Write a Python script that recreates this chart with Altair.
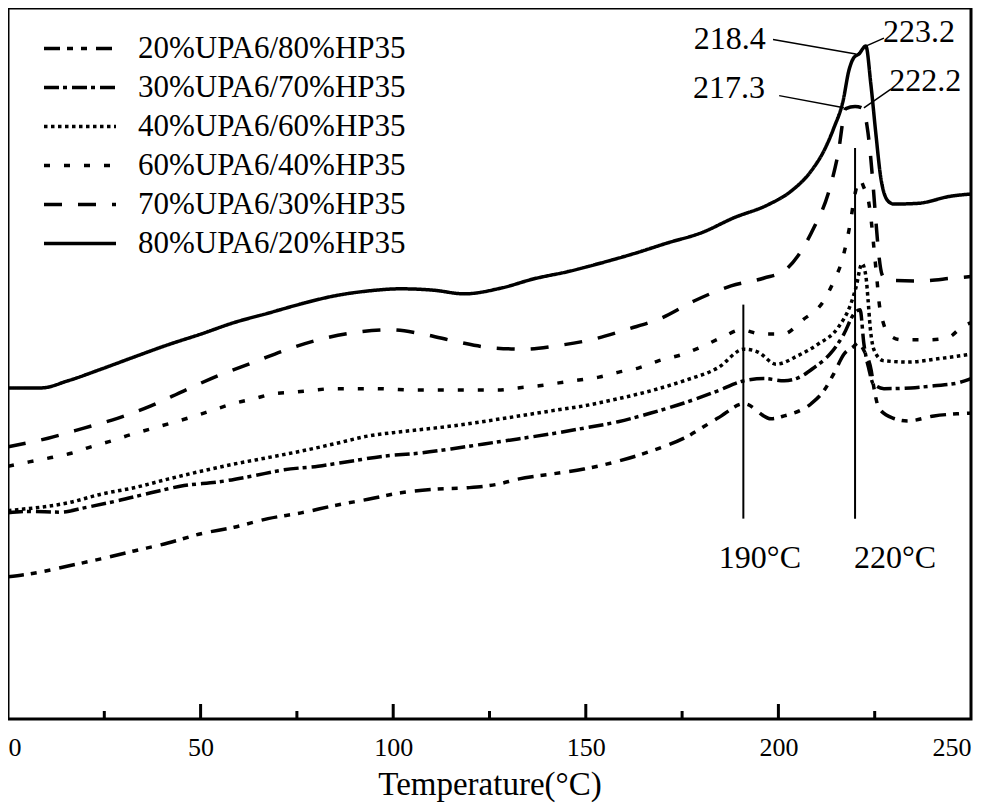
import altair as alt
import pandas as pd

# ---------------- data ----------------
series_names = ["20%UPA6/80%HP35", "30%UPA6/70%HP35", "40%UPA6/60%HP35",
                "60%UPA6/40%HP35", "70%UPA6/30%HP35", "80%UPA6/20%HP35"]

t_20 = [0, 6.7, 15.6, 24.1, 32.7, 41.5, 50.1, 58.7, 67.5, 76.1, 84.6, 93.5, 102, 110.6, 119.4,
        127.2, 132.4, 141, 149.5, 158.4, 166.9, 175.5, 184.3, 191.1, 198.1, 201.5, 208.5, 211.8,
        214.4, 217, 219.6, 220.7, 222.2, 224.1, 224.8, 226.1, 229.7, 233.6, 240.4, 246.6, 250]
v_20 = [19.8, 20.3, 21.3, 22.3, 23.4, 24.5, 25.8, 26.7, 27.9, 28.7, 29.7, 30.6, 31.5, 32.0, 32.2,
        32.7, 33.4, 34.1, 34.8, 35.9, 37.3, 39.1, 41.9, 43.9, 41.8, 42.2, 43.9, 45.7,
        48.1, 50.8, 51.9, 52.4, 51.3, 48.5, 46.1, 43.3, 41.9, 41.5, 42.2, 42.5, 42.6]

t_30 = [0, 5, 13.8, 19.7, 28.6, 37.1, 45.7, 54.5, 63.1, 71.7, 80.5, 89, 97.6, 106.4, 115,
        123.6, 132.4, 141, 149.5, 158.4, 166.9, 175.5, 184.3, 191.1, 196.3, 201.5, 205.1, 209.2,
        213.7, 217, 219.6, 221.2, 222.2, 223.5, 224.6, 227.4, 234.4, 240.4, 246.6, 250]
v_30 = [28.7, 28.9, 28.8, 29.4, 30.4, 31.5, 32.5, 33.0, 33.8, 34.7, 35.2, 35.9, 36.6, 37.0, 37.6,
        38.3, 39.0, 39.7, 40.5, 41.4, 42.6, 44.0, 45.7, 47.1, 47.4, 47.1, 47.5, 48.9,
        51.0, 53.6, 56.4, 57.0, 52.2, 48.7, 46.7, 46.0, 46.1, 46.4, 46.8, 47.4]

t_40 = [0, 3.4, 8.6, 15.6, 24.1, 32.7, 41.5, 50.1, 58.7, 67.5, 76.1, 84.6, 93.5, 102, 110.6,
        119.4, 128, 141, 149.5, 158.4, 166.9, 175.5, 184.3, 191.1, 194.7, 199.4, 205.1, 210.3,
        215.5, 218.8, 220.1, 221.7, 222.7, 223.3, 223.8, 224.9, 227.2, 233.6, 242, 250]
v_40 = [29.0, 29.2, 29.5, 30.1, 31.3, 32.2, 33.4, 34.5, 35.5, 36.4, 37.3, 38.3, 39.4, 40.0, 40.5,
        41.1, 41.8, 42.9, 43.6, 44.6, 45.7, 47.1, 48.9, 51.5, 51.1, 49.4, 50.6, 52.2,
        54.5, 57.8, 60.0, 63.4, 61.7, 58.2, 54.7, 51.3, 49.9, 49.7, 50.2, 50.8]

t_60 = [0, 5.5, 11.2, 16.4, 21.5, 26.7, 31.9, 37.1, 42.3, 48, 53.2, 58.4, 63.9, 69.1, 74.2,
        79.4, 84.6, 95, 105.9, 116.8, 127.2, 132.4, 137.9, 143, 148.2, 153.4, 158.6, 163.8,
        169, 174.7, 179.9, 185.6, 190.3, 195.5, 201.2, 206.4, 211.6, 214.4, 216.5, 217.8,
        218.8, 219.6, 221.2, 222.2, 223.3, 224.1, 224.6, 225.1, 225.6, 226.1, 227.2, 229.2,
        231.8, 238.8, 244, 247.9, 250]
v_60 = [35.2, 35.8, 36.4, 37.0, 37.9, 38.7, 39.6, 40.4, 41.2, 42.1, 43.0, 43.9, 44.6, 45.3, 45.5,
        45.8, 46.0, 46.0, 45.8, 45.8, 45.8, 46.1, 46.4, 46.8, 47.2, 47.6, 48.3, 48.9,
        49.9, 50.7, 51.8, 53.2, 54.2, 53.6, 53.6, 55.6, 58.1, 61.0, 63.8, 66.7,
        69.5, 72.3, 75.1, 74.0, 72.4, 69.4, 66.7, 63.9, 61.1, 58.2, 55.2, 53.3,
        52.8, 52.8, 53.1, 54.7, 55.2]

t_70 = [0, 10.4, 19.7, 28.6, 37.1, 45.7, 54.5, 63.9, 72.7, 81.3, 89.8, 99.4, 107.7, 116.8, 125.4,
        134, 142.8, 152.1, 161, 169.5, 178.1, 187.7, 196.3, 201.5, 205.1, 209.2, 212.9, 215.5,
        217.5, 219.9, 222, 223.0, 223.8, 224.6, 225.3, 226.1, 226.9, 228.2, 236.2, 245.6, 250]
v_70 = [37.9, 39.1, 40.5, 41.9, 43.6, 45.7, 47.8, 49.7, 51.5, 52.9, 53.8, 54.2, 53.6, 52.5, 51.7,
        51.5, 52.0, 52.9, 54.3, 55.8, 58.2, 60.3, 61.4, 62.4, 64.5, 68.4, 73.1, 78.7,
        85.0, 85.3, 85.0, 82.6, 79.1, 74.2, 69.4, 64.5, 61.9, 61.1, 61.0, 61.4, 61.6]

t_80 = [0, 8.6, 15.6, 24.1, 32.7, 41.5, 50.1, 58.7, 67.5, 76.1, 84.6, 93.5, 102, 110.6, 118.4,
        128, 136.6, 145.4, 154, 162.5, 171.3, 180, 188.5, 197.3, 203.3, 208.5, 211.8, 214.4,
        216.8, 218.3, 219.6, 220.9, 222.7, 224, 225.3, 226.6, 228.5, 230, 236.2, 244.8, 250]
v_80 = [46.1, 46.1, 47.1, 48.7, 50.4, 52.1, 53.6, 55.2, 56.5, 57.8, 58.9, 59.6, 59.9, 59.7, 59.2,
        60.0, 61.3, 62.3, 63.5, 64.8, 66.3, 67.7, 69.8, 71.6, 73.5, 76.3, 79.1, 82.3,
        86.1, 90.3, 92.1, 92.6, 93.7, 88.4, 81.5, 75.3, 72.1, 71.7, 71.8, 72.8, 73.1]

x_tick_labels = [0, 50, 100, 150, 200, 250]
major_ticks = [50, 100, 150, 200]
minor_ticks = [25, 75, 125, 175, 225]

# vertical marker lines at 190 and 220 C
marker_t = [190.9, 219.9]
marker_top = [57.7, 79.5]
marker_bottom = [27.9, 27.9]

# leader lines from peak labels to the curves
leader_t1 = [198.6, 222.7, 200.2, 222.2]
leader_v1 = [94.6, 93.7, 86.8, 85.1]
leader_t2 = [220.1, 227.4, 217.0, 229.2]
leader_v2 = [92.6, 94.8, 85.1, 87.7]

ann_text = ["218.4", "223.2", "217.3", "222.2", "190°C", "220°C"]
ann_t = [187.4, 236.5, 187.2, 238.1, 195.2, 230.3]
ann_v = [93.3, 94.2, 86.4, 87.5, 21.0, 21.0]

# ---------------- tables ----------------
rows = []
for name, ts, vs in zip(series_names, [t_20, t_30, t_40, t_60, t_70, t_80],
                        [v_20, v_30, v_40, v_60, v_70, v_80]):
    assert len(ts) == len(vs), name
    for i, (t, v) in enumerate(zip(ts, vs)):
        rows.append({"series": name, "T": t, "V": v, "order": i})
curves = pd.DataFrame(rows)

dash_patterns = [[16, 7, 6, 8, 6, 9], [15, 4, 4, 5], [3.5, 3.5], [6, 14], [18, 16], [1, 0]]

FONT = "Liberation Serif"
W, H = 963, 711

xscale = alt.Scale(domain=[0, 250], nice=False, zero=False)
yscale = alt.Scale(domain=[0, 99.0], nice=False, zero=False)
xaxis = alt.Axis(title="Temperature(°C)", values=x_tick_labels, format="d", domain=False,
                 ticks=False, tickSize=0, grid=False, labelFont=FONT, labelFontSize=26,
                 labelColor="black", labelBaseline="alphabetic", labelPadding=36,
                 labelFlush=True, labelFlushOffset=0, labelOverlap=False,
                 titleFont=FONT, titleFontSize=33,
                 titleColor="black", titleFontWeight="normal", titleBaseline="alphabetic",
                 titleY=75)


def X(field):
    return alt.X(field, type="quantitative", scale=xscale, axis=xaxis)


def Y(field):
    return alt.Y(field, type="quantitative", scale=yscale, axis=None)


lines = alt.Chart(curves).mark_line(strokeWidth=3.5, color="black", interpolate="monotone").encode(
    x=X("T"),
    y=Y("V"),
    strokeDash=alt.StrokeDash(
        "series:N",
        scale=alt.Scale(domain=series_names, range=dash_patterns),
        legend=alt.Legend(title=None, orient="none", legendX=34, legendY=21,
                          symbolType="stroke", symbolSize=5184, symbolStrokeWidth=3.5,
                          symbolStrokeColor="black", labelFont=FONT, labelFontSize=31,
                          labelColor="black", labelOffset=20, rowPadding=0, padding=0,
                          labelLimit=500, symbolOffset=0, clipHeight=39),
    ),
    order="order:Q",
)

major = alt.Chart(pd.DataFrame({"T": major_ticks})).mark_rule(strokeWidth=3, color="black").encode(
    x=X("T"), y=alt.value(H), y2=alt.value(H - 15))
minor = alt.Chart(pd.DataFrame({"T": minor_ticks})).mark_rule(strokeWidth=3, color="black").encode(
    x=X("T"), y=alt.value(H), y2=alt.value(H - 8))

markers = alt.Chart(pd.DataFrame({"T": marker_t, "V": marker_bottom, "V2": marker_top})).mark_rule(
    strokeWidth=2, color="black").encode(x=X("T"), y=Y("V"), y2="V2")

leaders = alt.Chart(pd.DataFrame({"T": leader_t1, "V": leader_v1, "T2": leader_t2, "V2": leader_v2})).mark_rule(
    strokeWidth=1.5, color="black").encode(x=X("T"), x2="T2", y=Y("V"), y2="V2")

texts = alt.Chart(pd.DataFrame({"T": ann_t, "V": ann_v, "label": ann_text})).mark_text(
    font=FONT, fontSize=32, color="black", align="center", baseline="alphabetic").encode(
    x=X("T"), y=Y("V"), text="label:N")

chart = alt.layer(lines, major, minor, markers, leaders, texts).properties(
    width=W, height=H,
    autosize=alt.AutoSizeParams(type="none"),
    padding={"left": 0, "top": 0, "right": 11, "bottom": 84},
    background="white",
).configure_view(stroke="black", strokeWidth=3)

chart.save("out.html", embed_options={"renderer": "svg", "actions": False})
